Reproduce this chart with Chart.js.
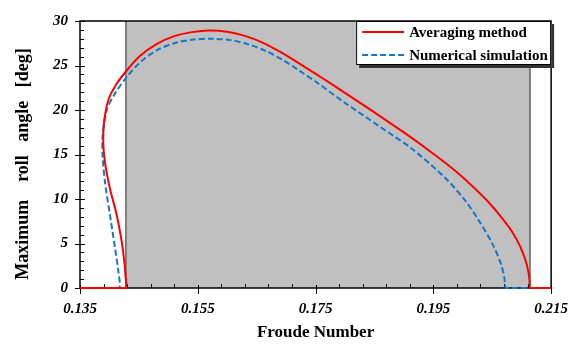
<!DOCTYPE html>
<html>
<head>
<meta charset="utf-8">
<script src="https://cdn.jsdelivr.net/npm/chart.js@4"></script>
<style>
  html, body { margin: 0; padding: 0; background: #fff; }
  #wrap { width: 580px; height: 350px; }
</style>
</head>
<body>
<div id="wrap"><canvas id="rollChart" width="580" height="350"></canvas></div>
<script>
// Froude number vs. maximum roll angle, two methods (each curve folds back near the left end)
const averagingFr = [0.135, 0.1415, 0.1428, 0.14274, 0.14251, 0.14206, 0.14122, 0.14008, 0.13924, 0.13895, 0.13907,
  0.1398, 0.14122, 0.14291, 0.14517, 0.1480, 0.1510, 0.1540, 0.1570, 0.1600, 0.1630, 0.1660, 0.1690, 0.1720, 0.1760,
  0.1800, 0.1850, 0.1900, 0.1950, 0.1990, 0.2020, 0.2045, 0.2065, 0.2084, 0.2098, 0.2107, 0.2112, 0.21135, 0.2114,
  0.2125, 0.215];
const averagingRoll = [0, 0, 0, 1.25, 3.09, 5.29, 8.24, 11.17, 14.12, 16.32, 18.53,
  21.1, 22.94, 24.41, 26.06, 27.4, 28.3, 28.75, 28.93, 28.78, 28.33, 27.58, 26.53, 25.33, 23.65,
  21.93, 19.73, 17.48, 15.08, 13.0, 11.2, 9.55, 8.0, 6.3, 4.6, 3.0, 1.6, 0.6, 0,
  0, 0];

const numericalFr = [0.135, 0.1405, 0.1417, 0.14149, 0.14093, 0.14008, 0.13924, 0.13884, 0.13884, 0.13952, 0.14093,
  0.14291, 0.14517, 0.1480, 0.1510, 0.1540, 0.1575, 0.1605, 0.1635, 0.1665, 0.1695, 0.1723, 0.1751, 0.1800,
  0.18585, 0.19149, 0.19715, 0.20054, 0.2028, 0.20506, 0.20647, 0.20703, 0.2072, 0.2073, 0.2085, 0.215];
const numericalRoll = [0, 0, 0, 1.99, 4.56, 8.24, 11.91, 14.86, 17.06, 20.0, 21.84,
  23.68, 25.33, 26.7, 27.5, 27.9, 28.0, 27.85, 27.4, 26.65, 25.6, 24.4, 23.15, 20.8,
  18.16, 15.58, 12.28, 9.71, 7.5, 4.93, 2.72, 1.25, 0.3, 0, 0, 0];

// Froude range shaded in gray
const shadedFr = [0.1428, 0.2114];

const xTicks = [0.135, 0.155, 0.175, 0.195, 0.215];
const seriesLabels = ['Averaging method', 'Numerical simulation'];
const xTitle = 'Froude Number';
const yTitle = 'Maximum    roll   angle   [deg]';

const SERIF = '"Liberation Serif", "Times New Roman", serif';
const RED = '#ff0000';
const BLUE = '#1577cc';

const toPoints = (xs, ys) => xs.map((x, i) => ({ x, y: ys[i] }));

// gray band, frame and ticks go under the curves
const backdropPlugin = {
  id: 'backdrop',
  beforeDatasetsDraw(chart) {
    const { ctx, chartArea: a, scales } = chart;
    const x0 = scales.x.getPixelForValue(shadedFr[0]);
    const x1 = scales.x.getPixelForValue(shadedFr[1]);
    ctx.save();
    ctx.fillStyle = '#c0c0c0';
    ctx.fillRect(x0, a.top, x1 - x0, a.bottom - a.top);
    ctx.strokeStyle = '#7f7f7f';
    ctx.lineWidth = 2;
    ctx.beginPath();
    ctx.moveTo(x0, a.top); ctx.lineTo(x0, a.bottom);
    ctx.moveTo(x1, a.top); ctx.lineTo(x1, a.bottom);
    ctx.stroke();

    ctx.strokeStyle = '#000';
    ctx.lineWidth = 1;
    ctx.beginPath();
    for (let v = 0; v <= 30; v++) {
      const y = Math.round(scales.y.getPixelForValue(v)) + 0.5;
      const major = v % 5 === 0;
      ctx.moveTo(a.left - (major ? 5 : 0), y);
      ctx.lineTo(a.left + (major ? 5 : 4), y);
    }
    for (let i = 0; i <= 20; i++) {
      const x = Math.round(scales.x.getPixelForValue(0.135 + i * 0.004)) + 0.5;
      const major = i % 5 === 0;
      ctx.moveTo(x, a.bottom + (major ? 6 : 0));
      ctx.lineTo(x, a.bottom - (major ? 3 : 4));
    }
    ctx.stroke();
    ctx.lineWidth = 1.5;
    ctx.strokeRect(a.left, a.top, a.right - a.left, a.bottom - a.top);
    ctx.restore();
  },
  afterDraw(chart) {
    const { ctx, chartArea: a } = chart;
    ctx.save();
    // axis titles
    ctx.fillStyle = '#000';
    ctx.textAlign = 'center';
    ctx.textBaseline = 'middle';
    ctx.font = 'bold 17px ' + SERIF;
    ctx.fillText(xTitle, (a.left + a.right) / 2, 333);
    ctx.save();
    ctx.font = 'bold 18px ' + SERIF;
    ctx.translate(23, 164);
    ctx.rotate(-Math.PI / 2);
    ctx.fillText(yTitle, 0, 0);
    ctx.restore();

    // legend box with drop shadow
    const w = 195, h = 44;
    const bx = a.right - w, by = a.top;
    ctx.fillStyle = '#333';
    ctx.fillRect(bx + 3, by + 3, w, h);
    ctx.fillStyle = '#fff';
    ctx.fillRect(bx, by, w, h);
    ctx.strokeStyle = '#000';
    ctx.lineWidth = 1;
    ctx.strokeRect(bx + 0.5, by + 0.5, w - 1, h - 1);
    ctx.font = 'bold 15px ' + SERIF;
    ctx.textAlign = 'left';
    chart.data.datasets.forEach((ds, i) => {
      const y = by + 11 + i * 23;
      ctx.strokeStyle = ds.borderColor;
      ctx.lineWidth = 2;
      ctx.setLineDash(ds.borderDash || []);
      ctx.beginPath();
      ctx.moveTo(bx + 6, y);
      ctx.lineTo(bx + 48, y);
      ctx.stroke();
      ctx.setLineDash([]);
      ctx.fillStyle = '#000';
      ctx.fillText(ds.label, bx + 53, y + 1);
    });
    ctx.restore();
  }
};

new Chart(document.getElementById('rollChart'), {
  type: 'scatter',
  data: {
    datasets: [
      {
        label: seriesLabels[0],
        data: toPoints(averagingFr, averagingRoll),
        showLine: true,
        borderColor: RED,
        borderWidth: 2,
        pointRadius: 0,
        tension: 0.3,
        clip: false
      },
      {
        label: seriesLabels[1],
        data: toPoints(numericalFr, numericalRoll),
        showLine: true,
        borderColor: BLUE,
        borderWidth: 2,
        borderDash: [6, 3],
        pointRadius: 0,
        tension: 0.3,
        clip: false
      }
    ]
  },
  options: {
    responsive: false,
    animation: false,
    layout: { padding: { top: 16, right: 28, left: 0, bottom: 0 } },
    plugins: { legend: { display: false }, tooltip: { enabled: false } },
    scales: {
      x: {
        type: 'linear',
        min: 0.135,
        max: 0.215,
        afterFit: s => { s.height = 62; },
        afterBuildTicks: s => { s.ticks = xTicks.map(v => ({ value: v })); },
        grid: { display: false, drawTicks: false },
        border: { display: false },
        ticks: {
          padding: 12,
          color: '#000',
          font: { family: SERIF, size: 15, style: 'italic', weight: 'bold' },
          callback: v => v.toFixed(3)
        }
      },
      y: {
        min: 0,
        max: 30,
        afterFit: s => { s.width = 80; },
        grid: { display: false, drawTicks: false },
        border: { display: false },
        ticks: {
          stepSize: 5,
          padding: 12,
          color: '#000',
          font: { family: SERIF, size: 15, style: 'italic', weight: 'bold' }
        }
      }
    }
  },
  plugins: [backdropPlugin]
});
</script>
</body>
</html>
